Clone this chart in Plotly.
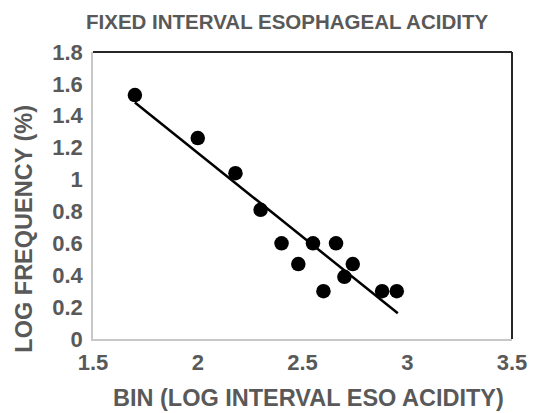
import plotly.graph_objects as go

# Data
bin_log_interval = [1.70, 2.00, 2.18, 2.30, 2.40, 2.48, 2.55, 2.60, 2.66, 2.70, 2.74, 2.88, 2.95]
log_frequency = [1.53, 1.26, 1.04, 0.81, 0.60, 0.47, 0.60, 0.30, 0.60, 0.39, 0.47, 0.30, 0.30]

# Linear trend line endpoints (as drawn in the reference)
trend_x = [1.70, 2.955]
trend_y = [1.483, 0.162]

x_ticks = [1.5, 2, 2.5, 3, 3.5]
x_tick_labels = ["1.5", "2", "2.5", "3", "3.5"]
y_ticks = [0, 0.2, 0.4, 0.6, 0.8, 1, 1.2, 1.4, 1.6, 1.8]
y_tick_labels = ["0", "0.2", "0.4", "0.6", "0.8", "1", "1.2", "1.4", "1.6", "1.8"]

title_text = "FIXED INTERVAL ESOPHAGEAL ACIDITY"
x_title = "BIN (LOG INTERVAL ESO ACIDITY)"
y_title = "LOG FREQUENCY (%)"

GRAY = "#595959"
FONT = "Liberation Sans, Arial, sans-serif"

fig = go.Figure()
fig.add_trace(go.Scatter(
    x=trend_x, y=trend_y, mode="lines",
    line=dict(color="black", width=2.5), hoverinfo="skip", showlegend=False,
))
fig.add_trace(go.Scatter(
    x=bin_log_interval, y=log_frequency, mode="markers",
    marker=dict(color="black", size=14.5), showlegend=False,
))

fig.update_layout(
    width=539, height=413,
    margin=dict(l=93, r=17, t=52, b=74),
    paper_bgcolor="white", plot_bgcolor="white",
    font=dict(family=FONT, color=GRAY),
    showlegend=False,
    xaxis=dict(
        range=[1.5, 3.5], tickvals=x_ticks, ticktext=x_tick_labels,
        showgrid=False, zeroline=False, showline=True, linecolor="#c8c8c8", linewidth=1.5,
        ticks="", ticklabelstandoff=3,
        tickfont=dict(family=FONT, size=22, color=GRAY, weight="bold"),
    ),
    yaxis=dict(
        range=[0, 1.8], tickvals=y_ticks, ticktext=y_tick_labels,
        showgrid=False, zeroline=False, showline=True, linecolor="#c8c8c8", linewidth=1.5,
        ticks="", ticklabelstandoff=4,
        tickfont=dict(family=FONT, size=22, color=GRAY, weight="bold"),
    ),
    shapes=[
        dict(type="line", xref="paper", yref="paper", x0=0, x1=1, y0=1, y1=1,
             line=dict(color="#262626", width=2)),
        dict(type="line", xref="paper", yref="paper", x0=1, x1=1, y0=0, y1=1,
             line=dict(color="#262626", width=2)),
    ],
    annotations=[
        dict(text="<b>" + title_text + "</b>", xref="paper", yref="paper",
             x=(291.5 - 93) / 429, y=1 + (52 - 21) / 287,
             xanchor="center", yanchor="middle", showarrow=False,
             font=dict(family=FONT, size=20.5, color=GRAY)),
        dict(text="<b>" + x_title + "</b>", xref="paper", yref="paper",
             x=(314 - 93) / 429, y=-(398 - 339) / 287,
             xanchor="center", yanchor="middle", showarrow=False,
             font=dict(family=FONT, size=23.5, color=GRAY)),
        dict(text="<b>" + y_title + "</b>", xref="paper", yref="paper",
             x=-(93 - 22) / 429, y=(339 - 229) / 287, textangle=-90,
             xanchor="center", yanchor="middle", showarrow=False,
             font=dict(family=FONT, size=23.5, color=GRAY)),
    ],
)

fig.write_html("out.html")
